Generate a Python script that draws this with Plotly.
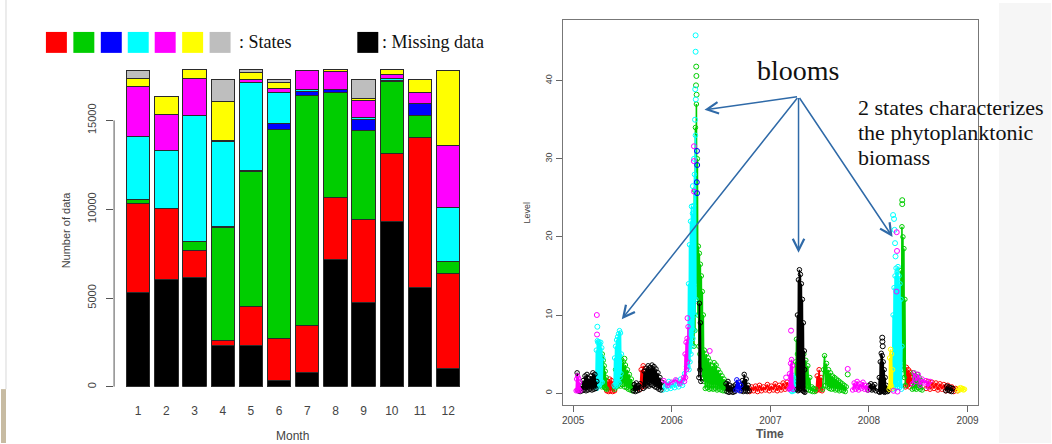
import plotly.graph_objects as go

W, H = 1052, 444


def fx(px):
    return px / W


def fy(py):
    return 1 - py / H


# ---------------- monthly counts (left panel) ----------------
MONTHS = [1, 2, 3, 4, 5, 6, 7, 8, 9, 10, 11, 12]
MONTH_LABELS = ["1", "2", "3", "4", "5", "6", "7", "8", "9", "10", "11", "12"]
COUNT_TICKS = [0, 5000, 10000, 15000]
COUNT_LABELS = ["0", "5000", "10000", "15000"]

MISSING = [5300, 6050, 6140, 2300, 2300, 340, 805, 7170, 4775, 9290, 5620, 1050]
STATE_RED = [5000, 3970, 1560, 320, 2210, 2380, 2660, 3510, 4645, 3840, 8445, 5320]
STATE_GREEN = [220, 30, 500, 6330, 7630, 11760, 12945, 5890, 5020, 4040, 1215, 670]
STATE_BLUE = [0, 0, 0, 60, 50, 320, 220, 190, 640, 60, 695, 0]
STATE_CYAN = [3600, 3240, 7080, 4780, 4960, 1790, 130, 0, 110, 150, 0, 3040]
STATE_MAGENTA = [2800, 2020, 2060, 90, 140, 190, 1050, 990, 940, 190, 615, 3520]
STATE_YELLOW = [450, 1010, 510, 2190, 410, 380, 0, 100, 130, 280, 700, 4190]
STATE_GRAY = [450, 0, 0, 1220, 150, 130, 0, 0, 1030, 0, 0, 0]

STATE_COLORS = ["#ff0000", "#00cd00", "#0000ff", "#00ffff", "#ff00ff", "#ffff00", "#bebebe"]
MISSING_COLOR = "#000000"

# ---------------- level time series by state (right panel) ----------------
YEAR_TICKS = [2005, 2006, 2007, 2008, 2009]
LEVEL_TICKS = [0, 10, 20, 30, 40]

RED_T = [2005.34, 2005.35, 2005.36, 2005.37, 2005.38, 2005.39, 2005.40, 2005.41, 2005.42, None,
         2005.68, 2005.69, 2005.70, 2005.71, 2005.72, 2005.73, None,
         2006.79, 2006.81, 2006.83, 2006.85, 2006.87, 2006.89, 2006.91, 2006.93, 2006.95, 2006.97,
         2006.99, 2007.01, 2007.03, 2007.05, 2007.07, 2007.09, 2007.11, 2007.13, 2007.15, 2007.17, 2007.19, None,
         2007.465, 2007.475, 2007.485, 2007.495, 2007.505, 2007.515, 2007.525, None,
         2008.37, 2008.38, 2008.39, 2008.40, 2008.41, 2008.42, 2008.43, 2008.44, None,
         2008.58, 2008.60, 2008.62, 2008.64, 2008.66, 2008.68, 2008.70, 2008.72, 2008.74,
         2008.76, 2008.78, 2008.80, 2008.82, 2008.84, 2008.86, 2008.88, 2008.90]
RED_Y = [0.3, 1.5, 0.2, 1.8, 0.3, 1.6, 0.2, 1.2, 0.3, None,
         0.5, 3.0, 0.8, 3.5, 1.0, 2.8, None,
         0.2, 0.8, 0.3, 0.9, 0.2, 1.0, 0.3, 0.8, 0.4, 1.1,
         0.3, 0.9, 0.4, 1.2, 0.3, 1.0, 0.4, 1.3, 0.5, 1.4, 0.6, None,
         0.3, 2.2, 0.5, 3.0, 0.4, 2.0, 0.3, None,
         0.8, 3.3, 1.0, 3.0, 0.8, 2.7, 1.2, 2.0, None,
         0.6, 1.5, 0.5, 1.4, 0.6, 1.3, 0.4, 1.2, 0.5,
         1.1, 0.3, 1.0, 0.3, 0.8, 0.2, 0.6, 0.3]

GREEN_T = [2005.280, 2005.285, 2005.290, 2005.295, 2005.300, 2005.305, 2005.310, 2005.315, 2005.320,
           2005.325, 2005.330, 2005.335, 2005.340, None,
           2005.42, 2005.43, 2005.44, 2005.45, 2005.46, 2005.47, 2005.48, 2005.49, 2005.50, 2005.51,
           2005.52, 2005.53, 2005.54, 2005.55, 2005.56, 2005.57, 2005.58, 2005.59, 2005.60, 2005.61, None,
           2006.225, 2006.230, 2006.235, 2006.240, 2006.245, 2006.250, 2006.255, 2006.260, 2006.265,
           2006.270, 2006.275, 2006.280, 2006.285, 2006.290, 2006.295, 2006.300, 2006.305, 2006.310,
           2006.315, 2006.320, 2006.325, 2006.33, 2006.34, 2006.35, 2006.36, 2006.37, 2006.38, 2006.39,
           2006.40, 2006.41, 2006.42, 2006.43, 2006.44, 2006.45, 2006.46, 2006.47, 2006.48, 2006.49,
           2006.50, 2006.51, 2006.52, 2006.53, 2006.54, 2006.55, None,
           2007.250, 2007.255, 2007.260, 2007.265, 2007.270, 2007.275, 2007.280, None,
           2007.33, 2007.34, 2007.35, 2007.36, 2007.37, 2007.38, 2007.39, 2007.40, 2007.41, 2007.42,
           2007.43, 2007.44, 2007.45, 2007.46, None,
           2007.53, 2007.54, 2007.55, 2007.56, 2007.57, 2007.58, 2007.59, 2007.60, 2007.61, 2007.62,
           2007.63, 2007.64, 2007.65, 2007.66, 2007.67, 2007.68, 2007.69, 2007.70, 2007.71, 2007.72,
           2007.73, 2007.74, 2007.75, 2007.76, 2007.77, None,
           2008.320, 2008.325, 2008.330, 2008.335, 2008.340, 2008.345, 2008.350, 2008.355, 2008.360,
           2008.365, 2008.370, None,
           2008.44, 2008.45, 2008.46, 2008.47, 2008.48, 2008.49, 2008.50, 2008.51, 2008.52, 2008.53, 2008.54]
GREEN_Y = [1.0, 4.5, 0.8, 5.0, 1.2, 4.2, 0.9, 3.5, 0.7,
           2.8, 0.6, 2.0, 0.5, None,
           0.5, 3.0, 0.8, 4.2, 1.0, 4.6, 0.9, 4.3, 1.1, 4.0,
           0.8, 3.6, 0.7, 3.0, 0.5, 2.4, 0.4, 1.8, 0.3, 1.1, None,
           6.0, 26.0, 8.0, 34.0, 12.0, 37.0, 14.0, 30.0, 10.0,
           18.8, 6.0, 17.9, 5.0, 16.5, 4.0, 15.0, 3.0, 13.0,
           2.0, 10.0, 1.5, 5.5, 0.6, 5.0, 0.7, 4.5, 0.5, 4.0,
           0.6, 3.5, 0.5, 3.9, 0.6, 3.6, 0.4, 3.0, 0.5, 2.6,
           0.4, 2.2, 0.3, 1.8, 0.3, 1.3, None,
           0.5, 4.0, 0.8, 6.9, 1.0, 5.0, 0.6, None,
           0.8, 5.0, 0.6, 4.2, 0.5, 3.5, 0.4, 2.0, 0.3, 0.8,
           0.2, 0.6, 0.2, 0.5, None,
           0.5, 3.0, 4.8, 1.0, 3.8, 0.8, 3.0, 0.6, 2.6, 0.5,
           2.2, 0.6, 2.0, 0.4, 1.8, 0.5, 1.6, 0.3, 1.4, 0.4,
           1.2, 0.3, 1.0, 0.2, 0.8, None,
           2.0, 15.7, 3.0, 21.3, 4.0, 20.0, 3.0, 18.5, 2.0,
           12.0, 1.0, None,
           0.5, 2.6, 0.6, 2.2, 0.5, 2.4, 0.7, 2.0, 0.5, 1.6, 0.4]
GREEN_PTS_T = [2006.248, 2006.250, 2006.246, 2006.252, 2005.52, 2007.785, 2008.338, 2008.338]
GREEN_PTS_Y = [41.8, 40.6, 39.4, 38.2, 4.4, 2.4, 24.7, 24.2]

CYAN_T = [2005.230, 2005.235, 2005.240, 2005.245, 2005.250, 2005.255, 2005.260, 2005.265, 2005.270,
          2005.275, 2005.280, 2005.285, 2005.290, 2005.295, 2005.300, None,
          2005.415, 2005.420, 2005.425, 2005.430, 2005.435, 2005.440, 2005.445, 2005.450, 2005.455,
          2005.460, 2005.465, 2005.470, 2005.475, 2005.480, 2005.485, 2005.490, None,
          2005.91, 2005.93, 2005.95, 2005.97, 2005.99, 2006.01, 2006.03, 2006.05, 2006.07, 2006.09,
          2006.11, 2006.13, 2006.15, None,
          2006.165, 2006.170, 2006.175, 2006.180, 2006.185, 2006.190, 2006.195, 2006.200, 2006.205,
          2006.210, 2006.215, 2006.220, 2006.225, 2006.230, 2006.235, 2006.240, 2006.245, None,
          2007.210, 2007.215, 2007.220, 2007.225, 2007.230, 2007.235, 2007.240, 2007.245, 2007.250,
          2007.255, None,
          2008.240, 2008.245, 2008.250, 2008.255, 2008.260, 2008.265, 2008.270, 2008.275, 2008.280,
          2008.285, 2008.290, 2008.295, 2008.300, 2008.305, 2008.310, 2008.315, 2008.320, 2008.325,
          2008.330, 2008.335]
CYAN_Y = [0.8, 5.5, 0.6, 6.7, 6.5, 1.0, 6.6, 0.9, 6.3,
          1.2, 6.5, 1.5, 5.8, 1.4, 4.5, None,
          1.0, 4.5, 0.8, 6.0, 1.2, 6.8, 1.0, 7.2, 1.5,
          7.6, 1.3, 8.0, 2.0, 7.7, 2.5, 5.0, None,
          0.4, 1.2, 0.5, 1.5, 0.6, 1.3, 0.7, 1.6, 0.8, 1.8,
          1.0, 2.5, 3.4, None,
          3.4, 14.0, 3.0, 19.0, 4.0, 22.0, 5.0, 23.9, 6.0,
          23.0, 7.0, 24.0, 8.0, 28.0, 10.0, 33.0, 12.0, None,
          0.3, 1.5, 0.2, 2.3, 0.4, 2.0, 0.3, 1.8, 0.5,
          1.2, None,
          0.5, 10.0, 0.8, 13.5, 1.0, 15.0, 0.6, 16.0, 1.2,
          15.5, 0.8, 16.2, 1.5, 15.0, 0.7, 14.0, 1.0, 12.0,
          0.5, 6.0]
CYAN_PTS_T = [2005.245, 2006.242, 2006.242, 2006.238, 2006.244, 2006.236, 2006.226, 2006.214,
              2008.245, 2008.255, 2008.260, 2008.265, 2008.270]
CYAN_PTS_Y = [8.5, 45.8, 43.7, 38.9, 37.6, 35.0, 30.0, 26.5,
              22.8, 22.3, 20.9, 19.2, 17.5]

BLACK_T = [2005.04, 2005.05, 2005.06, 2005.07, 2005.08, 2005.09, 2005.10, 2005.11, 2005.12, 2005.13,
           2005.14, 2005.15, 2005.16, 2005.17, 2005.18, 2005.19, 2005.20, 2005.21, 2005.22, 2005.23,
           2005.24, None,
           2005.61, 2005.62, 2005.63, 2005.64, 2005.65, 2005.66, 2005.67, 2005.68, None,
           2005.71, 2005.72, 2005.73, 2005.74, 2005.75, 2005.76, 2005.77, 2005.78, 2005.79, 2005.80,
           2005.81, 2005.82, 2005.83, 2005.84, 2005.85, 2005.86, 2005.87, 2005.88, 2005.89, 2005.90, None,
           2006.275, 2006.280, 2006.285, 2006.290, 2006.295, None,
           2006.55, 2006.56, 2006.57, 2006.58, 2006.59, 2006.60, 2006.61, 2006.62, 2006.63, 2006.64,
           2006.65, None,
           2006.705, 2006.715, 2006.725, 2006.735, 2006.745, 2006.755, 2006.765, 2006.775, 2006.785, None,
           2007.270, 2007.275, 2007.280, 2007.285, 2007.290, 2007.295, 2007.300, 2007.305, 2007.310,
           2007.315, 2007.320, 2007.325, 2007.330, 2007.335, 2007.340, 2007.345, 2007.350, None,
           2007.99, 2008.00, 2008.01, 2008.02, 2008.03, 2008.04, 2008.05, 2008.06, 2008.07, None,
           2008.100, 2008.105, 2008.110, 2008.115, 2008.120, 2008.125, 2008.130, 2008.135, 2008.140,
           2008.145, 2008.150, 2008.155, 2008.160, 2008.165, 2008.170, 2008.175, 2008.180, 2008.190,
           2008.200, None,
           2008.78, 2008.79, 2008.80, 2008.81, 2008.82, 2008.83, 2008.84, 2008.85]
BLACK_Y = [2.6, 0.3, 0.7, 0.2, 0.9, 0.3, 1.6, 0.4, 2.2, 0.3,
           2.4, 0.4, 1.9, 0.5, 2.2, 0.4, 2.6, 0.5, 2.4, 0.6,
           1.5, None,
           0.3, 1.1, 0.2, 1.3, 0.3, 1.0, 0.4, 1.2, None,
           0.6, 2.8, 0.8, 3.2, 1.0, 3.5, 0.9, 3.3, 1.1, 3.6,
           1.0, 3.4, 0.8, 3.1, 0.7, 2.6, 0.5, 2.0, 0.4, 1.4, None,
           2.0, 11.5, 3.0, 9.0, 1.5, None,
           1.2, 0.2, 1.5, 0.1, 1.0, 0.2, 0.8, 0.1, 0.9, 0.2,
           1.1, None,
           0.3, 1.6, 0.2, 2.4, 0.3, 1.8, 0.2, 1.0, 0.3, None,
           0.5, 10.0, 0.3, 14.5, 0.4, 15.8, 0.5, 15.2, 0.6,
           14.0, 0.4, 12.0, 0.3, 9.0, 0.2, 5.4, 0.1, None,
           0.4, 1.0, 0.5, 1.2, 0.4, 0.9, 0.5, 1.1, 0.3, None,
           0.2, 2.0, 0.1, 4.0, 0.3, 5.1, 0.2, 4.8, 0.3,
           4.0, 0.2, 3.0, 0.1, 2.0, 0.2, 1.0, 0.5, 0.2,
           0.4, None,
           0.3, 0.9, 0.4, 0.8, 0.3, 0.7, 0.2, 0.6]
BLACK_PTS_T = [2008.135, 2008.137, 2008.140, 2007.345]
BLACK_PTS_Y = [7.1, 6.6, 6.0, 3.0]

MAGENTA_T = [2005.030, 2005.035, 2005.040, 2005.045, 2005.050, 2005.055, 2005.060, 2005.065, 2005.070, None,
             2005.92, 2005.96, 2006.00, 2006.04, 2006.08, 2006.12, None,
             2006.130, 2006.135, 2006.140, 2006.145, 2006.150, 2006.155, 2006.160, 2006.165, None,
             2007.190, 2007.195, 2007.200, 2007.205, 2007.210, 2007.215, 2007.220, 2007.225, 2007.230, None,
             2007.835, 2007.850, 2007.865, 2007.880, 2007.895, 2007.910, 2007.925, 2007.940, 2007.955,
             2007.970, 2007.985, None,
             2008.44, 2008.46, 2008.48, 2008.50, 2008.52, 2008.54, 2008.56, 2008.58, 2008.60, 2008.62]
MAGENTA_Y = [0.3, 1.8, 0.4, 2.2, 0.3, 1.9, 0.5, 1.4, 0.3, None,
             1.6, 1.0, 1.4, 1.7, 1.2, 2.0, None,
             1.5, 5.0, 2.0, 6.5, 3.0, 7.0, 4.0, 8.5, None,
             0.5, 2.5, 0.6, 3.8, 0.7, 4.3, 0.8, 3.5, 0.5, None,
             0.4, 1.3, 0.5, 1.5, 0.4, 1.2, 0.6, 1.4, 0.5,
             1.0, 0.4, None,
             1.2, 2.6, 1.5, 2.4, 1.0, 1.8, 1.3, 1.6, 0.8, 1.5]
MAGENTA_PTS_T = [2005.240, 2005.242, 2006.160, 2006.225, 2006.224, 2006.226, 2006.385,
                 2007.160, 2007.210, 2007.785, 2008.282, 2008.285, 2008.280, 2008.250, 2008.290]
MAGENTA_PTS_Y = [10.0, 7.5, 9.6, 31.6, 29.7, 25.8, 5.4,
                 2.0, 8.0, 3.1, 20.6, 18.2, 13.0, 0.3, 0.2]

BLUE_T = [2006.65, 2006.66, 2006.67, 2006.68, 2006.69, 2006.70]
BLUE_Y = [0.4, 1.7, 0.5, 1.4, 0.3, 1.0]
BLUE_PTS_T = [2006.256, 2006.258, 2006.254, 2006.257]
BLUE_PTS_Y = [31.0, 29.2, 27.0, 25.6]

YELLOW_T = [2008.205, 2008.210, 2008.215, 2008.220, 2008.225, 2008.230, 2008.235, 2008.240, None,
            2008.90, 2008.91, 2008.92, 2008.93, 2008.94, 2008.95, 2008.96, 2008.97]
YELLOW_Y = [0.5, 4.5, 0.8, 5.6, 1.0, 5.0, 0.6, 3.0, None,
            0.3, 0.6, 0.4, 0.7, 0.5, 0.6, 0.4, 0.5]

fig = go.Figure()

# ---- stacked monthly bars ----
bar_layers = [
    ("Missing data", MISSING, MISSING_COLOR),
    ("State 1", STATE_RED, STATE_COLORS[0]),
    ("State 2", STATE_GREEN, STATE_COLORS[1]),
    ("State 3", STATE_BLUE, STATE_COLORS[2]),
    ("State 4", STATE_CYAN, STATE_COLORS[3]),
    ("State 5", STATE_MAGENTA, STATE_COLORS[4]),
    ("State 6", STATE_YELLOW, STATE_COLORS[5]),
    ("State 7", STATE_GRAY, STATE_COLORS[6]),
]
for name, vals, col in bar_layers:
    fig.add_trace(go.Bar(
        x=MONTHS, y=vals, name=name, width=0.83,
        marker=dict(color=col, line=dict(color="#2a2a2a", width=1)),
        xaxis="x", yaxis="y", showlegend=False,
    ))

# ---- level series coloured by state ----
line_series = [
    (RED_T, RED_Y, STATE_COLORS[0]),
    (GREEN_T, GREEN_Y, STATE_COLORS[1]),
    (CYAN_T, CYAN_Y, STATE_COLORS[3]),
    (BLACK_T, BLACK_Y, MISSING_COLOR),
    (MAGENTA_T, MAGENTA_Y, STATE_COLORS[4]),
    (BLUE_T, BLUE_Y, STATE_COLORS[2]),
    (YELLOW_T, YELLOW_Y, STATE_COLORS[5]),
]
for t, y, col in line_series:
    fig.add_trace(go.Scatter(
        x=t, y=y, mode="lines+markers", xaxis="x2", yaxis="y2", showlegend=False,
        line=dict(color=col, width=1.6),
        marker=dict(symbol="circle-open", size=4.5, color=col, line=dict(width=1)),
    ))

point_series = [
    (GREEN_PTS_T, GREEN_PTS_Y, STATE_COLORS[1]),
    (CYAN_PTS_T, CYAN_PTS_Y, STATE_COLORS[3]),
    (BLACK_PTS_T, BLACK_PTS_Y, MISSING_COLOR),
    (MAGENTA_PTS_T, MAGENTA_PTS_Y, STATE_COLORS[4]),
    (BLUE_PTS_T, BLUE_PTS_Y, STATE_COLORS[2]),
]
for t, y, col in point_series:
    fig.add_trace(go.Scatter(
        x=t, y=y, mode="markers", xaxis="x2", yaxis="y2", showlegend=False,
        marker=dict(symbol="circle-open", size=5, color=col, line=dict(width=1)),
    ))

sans = "Liberation Sans, Arial, sans-serif"
serif = "Liberation Serif, Times New Roman, serif"
tick_font = dict(family=sans, size=11, color="#444")

fig.update_layout(
    width=W, height=H,
    margin=dict(l=0, r=0, t=0, b=0),
    paper_bgcolor="white", plot_bgcolor="rgba(0,0,0,0)",
    barmode="stack",
    xaxis=dict(
        domain=[fx(113.3), fx(462.2)], range=[0.146, 12.5],
        tickvals=MONTHS, ticktext=MONTH_LABELS, tickfont=dict(tick_font, size=12),
        ticks="outside", ticklen=13, tickcolor="rgba(0,0,0,0)",
        showline=False, showgrid=False, zeroline=False, anchor="y",
    ),
    yaxis=dict(
        domain=[fy(387.7), fy(58.4)], range=[0, 18500],
        tickvals=COUNT_TICKS, ticktext=COUNT_LABELS, tickangle=-90, tickfont=tick_font,
        ticks="outside", ticklen=7, tickcolor="#555", tickwidth=1,
        ticklabelstandoff=6,
        showline=False, showgrid=False, zeroline=False, anchor="x",
    ),
    xaxis2=dict(
        domain=[fx(562.7), fx(979.3)], range=[2004.893, 2009.111],
        tickvals=YEAR_TICKS, ticktext=[str(v) for v in YEAR_TICKS], tickfont=dict(tick_font, size=10),
        ticks="outside", ticklen=6, tickcolor="#666",
        showline=True, mirror=True, linecolor="#777", linewidth=1,
        showgrid=False, zeroline=False, anchor="y2",
    ),
    yaxis2=dict(
        domain=[fy(406), fy(20)], range=[-1.53, 47.77],
        tickvals=LEVEL_TICKS, tickangle=-90, tickfont=dict(tick_font, size=9),
        ticks="outside", ticklen=6, tickcolor="#666",
        showline=True, mirror=True, linecolor="#777", linewidth=1,
        showgrid=False, zeroline=False, anchor="x2",
    ),
)

shapes = [
    # page edges
    dict(type="rect", xref="paper", yref="paper", x0=fx(1000), x1=1, y0=0, y1=fy(3),
         fillcolor="#f6f6f6", line=dict(width=0), layer="below"),
    dict(type="rect", xref="paper", yref="paper", x0=0, x1=fx(5), y0=0, y1=fy(390),
         fillcolor="#c7bba2", line=dict(width=0), layer="below"),
    dict(type="line", xref="paper", yref="paper", x0=fx(5), x1=fx(5), y0=fy(390), y1=1,
         line=dict(color="#d8d8d8", width=1), layer="below"),
    # y axis line of the bar chart, spanning the labelled ticks
    dict(type="line", xref="x domain", yref="y", x0=0, x1=0,
         y0=COUNT_TICKS[0], y1=COUNT_TICKS[-1], line=dict(color="#555", width=1)),
]

# colour key above the bars
key_left = [45, 72.5, 100, 127, 154, 181.5, 209]
for left, col in zip(key_left, STATE_COLORS):
    shapes.append(dict(type="rect", xref="paper", yref="paper",
                       x0=fx(left), x1=fx(left + 21), y0=fy(53), y1=fy(32),
                       fillcolor=col, line=dict(width=0)))
shapes.append(dict(type="rect", xref="paper", yref="paper",
                   x0=fx(357), x1=fx(378), y0=fy(53), y1=fy(32),
                   fillcolor=MISSING_COLOR, line=dict(width=0)))

fig.update_layout(shapes=shapes)


def label(text, x, y, size, family=sans, color="#444", xanchor="center", angle=0):
    return dict(text=text, x=fx(x), y=fy(y), xref="paper", yref="paper",
                xanchor=xanchor, yanchor="middle", textangle=angle, showarrow=False,
                font=dict(family=family, size=size, color=color))


annotations = [
    label(": States", 236, 42, 18, serif, "#111", "left"),
    label(": Missing data", 380, 42, 18, serif, "#111", "left"),
    label("Number of data", 66, 230, 11, angle=-90),
    label("Month", 292, 437, 12),
    label("Level", 527, 213, 9, angle=-90),
    label("<b>Time</b>", 770.5, 435, 12, color="#555"),
    label("blooms", 798.6, 71, 28, serif, "#111"),
    label("2 states characterizes", 857, 108, 22, serif, "#111", "left"),
    label("the phytoplanktonic", 857, 133, 22, serif, "#111", "left"),
    label("biomass", 857, 158, 22, serif, "#111", "left"),
]

# arrows from the "blooms" label to each bloom
ARROW_FROM = (2007.286, 37.97)
ARROW_TARGETS_T = [2006.332, 2005.493, 2007.286, 2008.240]
ARROW_TARGETS_Y = [36.27, 9.45, 17.97, 19.99]
for tx, ty in zip(ARROW_TARGETS_T, ARROW_TARGETS_Y):
    annotations.append(dict(
        x=tx, y=ty, ax=ARROW_FROM[0], ay=ARROW_FROM[1],
        xref="x2", yref="y2", axref="x2", ayref="y2", text="",
        showarrow=True, arrowhead=5, arrowsize=1.5, arrowwidth=1.5,
        arrowcolor="#2f6aa8", standoff=0, startstandoff=0,
    ))

fig.update_layout(annotations=annotations)

fig.write_html("out.html")
